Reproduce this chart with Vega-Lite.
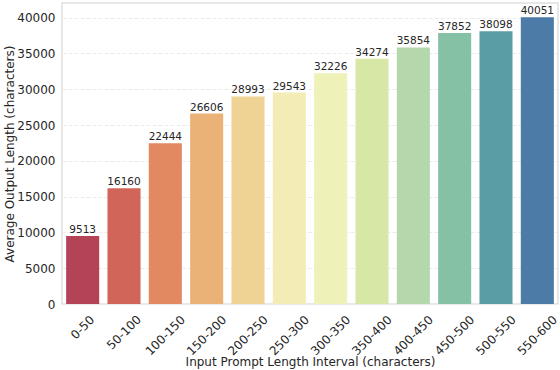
{
  "$schema": "https://vega.github.io/schema/vega-lite/v6.json",
  "width": 496,
  "height": 301,
  "autosize": "none",
  "padding": {"left": 62, "top": 3, "right": 2, "bottom": 66},
  "background": "white",
  "config": {
    "font": "DejaVu Sans",
    "view": {"stroke": "#e0e0e0", "strokeWidth": 1.5},
    "axis": {"labelFont": "DejaVu Sans", "titleFont": "DejaVu Sans", "labelColor": "#262626", "titleColor": "#262626", "titleFontWeight": "normal", "labelFontSize": 12, "titleFontSize": 12}
  },
  "data": {"values": [
    {"interval": "0-50", "value": 9513, "color": "#b54358"},
    {"interval": "50-100", "value": 16160, "color": "#d2655a"},
    {"interval": "100-150", "value": 22444, "color": "#e28962"},
    {"interval": "150-200", "value": 26606, "color": "#eab277"},
    {"interval": "200-250", "value": 28993, "color": "#efd394"},
    {"interval": "250-300", "value": 29543, "color": "#f4ecb6"},
    {"interval": "300-350", "value": 32226, "color": "#eef2b9"},
    {"interval": "350-400", "value": 34274, "color": "#d7e7a5"},
    {"interval": "400-450", "value": 35854, "color": "#b4d7ab"},
    {"interval": "450-500", "value": 37852, "color": "#85c1a5"},
    {"interval": "500-550", "value": 38098, "color": "#5a9da4"},
    {"interval": "550-600", "value": 40051, "color": "#4c7ba8"}
  ]},
  "encoding": {
    "x": {
      "field": "interval", "type": "nominal", "sort": null,
      "scale": {"paddingInner": 0.2, "paddingOuter": 0.1},
      "axis": {
        "title": "Input Prompt Length Interval (characters)",
        "labelAngle": -45, "labelAlign": "center", "labelBaseline": "middle",
        "labelPadding": {"condition": [{"test": "length(datum.label) <= 4", "value": 23}, {"test": "length(datum.label) <= 6", "value": 28}], "value": 31},
        "ticks": false, "domain": false,
        "titleY": 61, "titleBaseline": "alphabetic"
      }
    },
    "y": {
      "field": "value", "type": "quantitative",
      "scale": {"domain": [0, 42054], "nice": false, "zero": true},
      "axis": {"title": "Average Output Length (characters)", "values": [0, 5000, 10000, 15000, 20000, 25000, 30000, 35000, 40000], "format": "d", "ticks": false, "domain": false, "grid": true, "gridColor": "#ebebeb", "gridDash": [4, 2], "gridWidth": 1, "labelPadding": 7, "titleX": -49, "titleBaseline": "alphabetic"}
    }
  },
  "layer": [
    {"mark": {"type": "bar"}, "encoding": {"color": {"field": "color", "type": "nominal", "scale": null}}},
    {"mark": {"type": "text", "dy": -3, "baseline": "alphabetic", "fontSize": 10.5, "color": "#262626", "font": "DejaVu Sans"}, "encoding": {"text": {"field": "value", "type": "quantitative", "format": "d"}}}
  ]
}
